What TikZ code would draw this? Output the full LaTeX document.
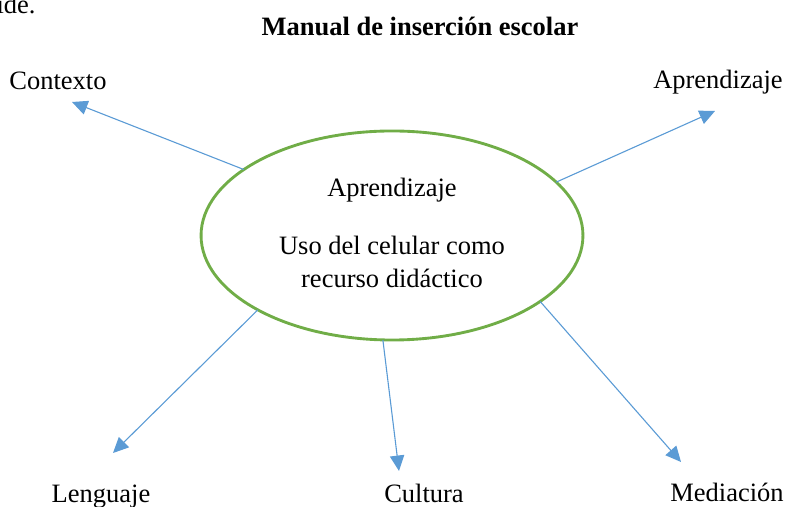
\documentclass[tikz,border=0pt]{standalone}
\usepackage{fontspec}
\setmainfont{Liberation Serif}
\usetikzlibrary{arrows.meta}
\usetikzlibrary{shapes.geometric}
\definecolor{azul}{HTML}{5B9BD5}
\definecolor{verde}{HTML}{70AD47}

\begin{document}
\begin{tikzpicture}[x=0.453pt,y=-0.453pt]
  \tikzstyle{every node}=[font=\fontsize{12}{14}\selectfont, inner sep=0pt]
  \tikzstyle{flecha}=[color=azul, line width=0.5pt, -{Triangle[length=7pt,width=6.5pt]}]
  \useasboundingbox (0,0) rectangle (787,507);
  \clip (0,0) rectangle (787,507);
  %%
  \node[anchor=base east] (resto) at (36,14) {ide.};
  \node[anchor=base] (titulo) at (420,36) {\textbf{Manual de inserción escolar}};
  %%
  \node[draw=verde, line width=1.3pt, ellipse, minimum width=173pt,
    minimum height=94.7pt, outer sep=0pt] (centro) at (392,235.5) {};
  \node[anchor=base] (tema) at (392,197) {Aprendizaje};
  \node[anchor=base] (uso) at (392,255) {Uso del celular como};
  \node[anchor=base] (recurso) at (392,288) {recurso didáctico};
  %%
  \node[anchor=base] (contexto) at (58,90) {Contexto};
  \node[anchor=base] (aprender) at (718,89) {Aprendizaje};
  \node[anchor=base] (lenguaje) at (101,503) {Lenguaje};
  \node[anchor=base] (cultura) at (424,503) {Cultura};
  \node[anchor=base] (mediacion) at (727,502) {Mediación};
  %%
  \coordinate (pcontexto) at (72,102);
  \coordinate (paprender) at (715,111);
  \coordinate (plenguaje) at (113,453);
  \coordinate (pcultura) at (399,471);
  \coordinate (pmediacion) at (681,462);
  \draw[flecha] (centro.156.8) -- (pcontexto);
  \draw[flecha] (centro.18.7) -- (paprender);
  \draw[flecha] (centro.209.6) -- (plenguaje);
  \draw[flecha] (centro.265) -- (pcultura);
  \draw[flecha] (centro.336.9) -- (pmediacion);
\end{tikzpicture}
\end{document}
